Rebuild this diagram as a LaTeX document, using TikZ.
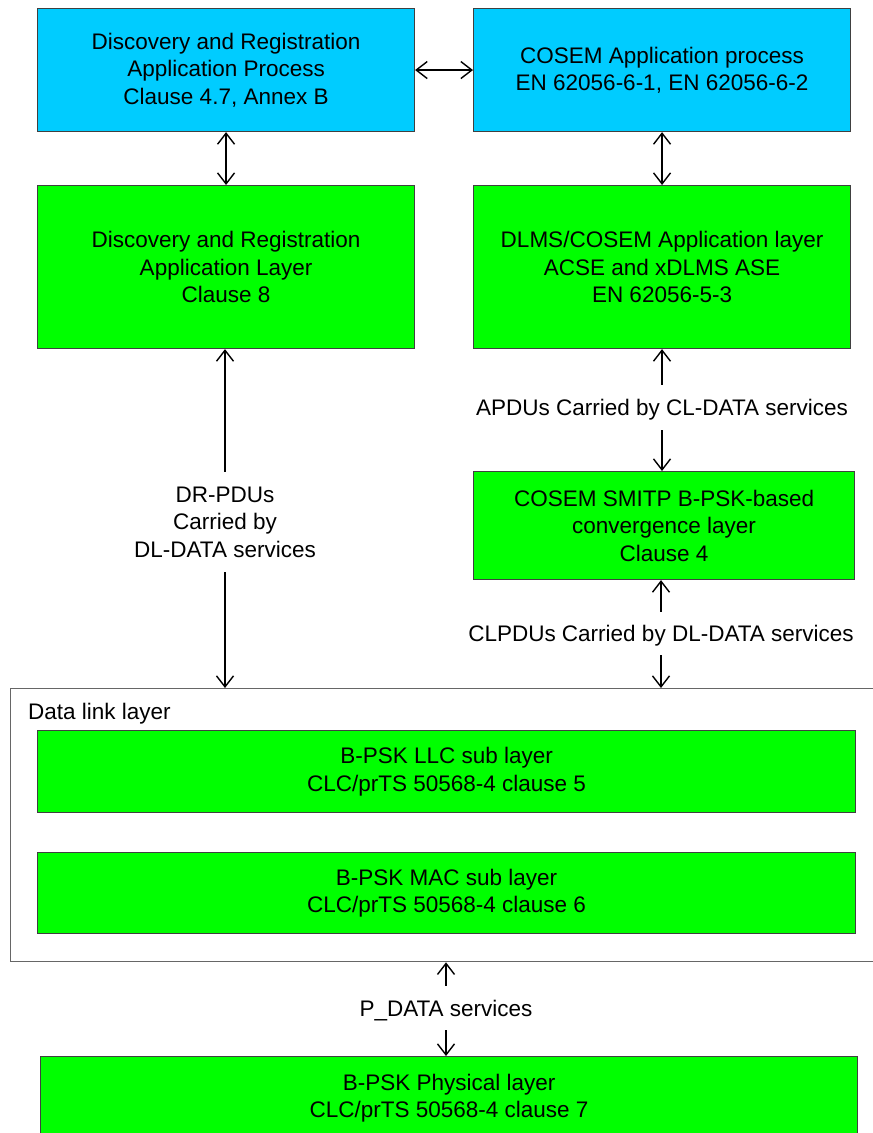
\documentclass[tikz,border=0pt]{standalone}
\usepackage{fontspec}
\setmainfont{Liberation Sans}
\usetikzlibrary{arrows.meta}
\definecolor{procblue}{HTML}{00CCFF}
\definecolor{layergreen}{HTML}{00FF00}
\definecolor{edgegray}{HTML}{404040}
\begin{document}
\begin{tikzpicture}[x=1pt,y=-1pt,
  font=\fontsize{22.5}{27.5}\selectfont,
  boxbase/.style={draw=edgegray, line width=1.1pt, anchor=north west, inner sep=0pt, align=center},
  bluebox/.style={boxbase, fill=procblue},
  greenbox/.style={boxbase, fill=layergreen},
  lbl/.style={inner sep=0pt, align=center},
  onelbl/.style={lbl, text height=16pt, text depth=0pt},
  conn/.style={line width=1.4pt, arrows={Straight Barb[length=11pt,width=17pt,line width=1.4pt]-Straight Barb[length=11pt,width=17pt,line width=1.4pt]}},
  connA/.style={line width=1.4pt, -{Straight Barb[length=11pt,width=17pt,line width=1.4pt]}}
]
\clip (0,0) rectangle (873,1133);
\fill[white] (0,0) rectangle (873,1133);

% top row
\node[bluebox, minimum width=377pt, minimum height=123pt] (drap) at (37,8)
  {Discovery and Registration\\Application Process\\Clause 4.7, Annex B};
\node[bluebox, minimum width=377pt, minimum height=123pt] (cosemap) at (473,8)
  {COSEM Application process\\EN 62056-6-1, EN 62056-6-2};

% second row
\node[greenbox, minimum width=377pt, minimum height=163pt] (dral) at (37,185)
  {Discovery and Registration\\Application Layer\\Clause 8};
\node[greenbox, minimum width=377pt, minimum height=163pt] (dlms) at (473,185)
  {DLMS/COSEM Application layer\\ACSE and xDLMS ASE\\EN 62056-5-3};

% convergence layer
\node[greenbox, minimum width=381pt, minimum height=108pt] (smitp) at (473,471)
  {COSEM SMITP B-PSK-based\\convergence layer\\Clause 4};

% data link layer
\node[draw=edgegray!80, line width=1.3pt, anchor=north west, minimum width=880pt, minimum height=273pt, inner sep=0pt] (dll) at (10,688) {};
\node[anchor=base west, inner sep=0pt] (dlltitle) at (28,719) {Data link layer};
\node[greenbox, minimum width=818pt, minimum height=82pt] (llc) at (37,730)
  {B-PSK LLC sub layer\\CLC/prTS 50568-4 clause 5};
\node[greenbox, minimum width=818pt, minimum height=81pt] (mac) at (37,852)
  {B-PSK MAC sub layer\\CLC/prTS 50568-4 clause 6};

% physical layer (bottom edge lies below the visible area)
\node[greenbox, minimum width=817pt, minimum height=83pt] (phy) at (40,1056)
  {B-PSK Physical layer\\CLC/prTS 50568-4 clause 7};

% labels
\node[lbl, minimum height=100pt] (drlab) at (225,522) {DR-PDUs\\Carried by\\DL-DATA services};
\node[onelbl, minimum height=45pt] (apdu) at (662,407.5) {APDUs Carried by CL-DATA services};
\node[onelbl, minimum height=43pt] (clpdu) at (661,633.5) {CLPDUs Carried by DL-DATA services};
\node[onelbl, minimum height=44pt] (pdata) at (446,1008) {P\_DATA services};

% connectors
\draw[conn] (drap.east) -- (cosemap.west);
\draw[conn] (drap.south) -- (drap.south |- dral.north);
\draw[conn] (cosemap.south) -- (cosemap.south |- dlms.north);

\draw[connA] (drlab.north) -- (drlab.north |- dral.south);
\draw[connA] (drlab.south) -- (drlab.south |- dll.north);

\draw[connA] (apdu.north) -- (apdu.north |- dlms.south);
\draw[connA] (apdu.south) -- (apdu.south |- smitp.north);

\draw[connA] (clpdu.north) -- (clpdu.north |- smitp.south);
\draw[connA] (clpdu.south) -- (clpdu.south |- dll.north);

\draw[connA] (pdata.north) -- (pdata.north |- dll.south);
\draw[connA] (pdata.south) -- (pdata.south |- phy.north);
\end{tikzpicture}
\end{document}
